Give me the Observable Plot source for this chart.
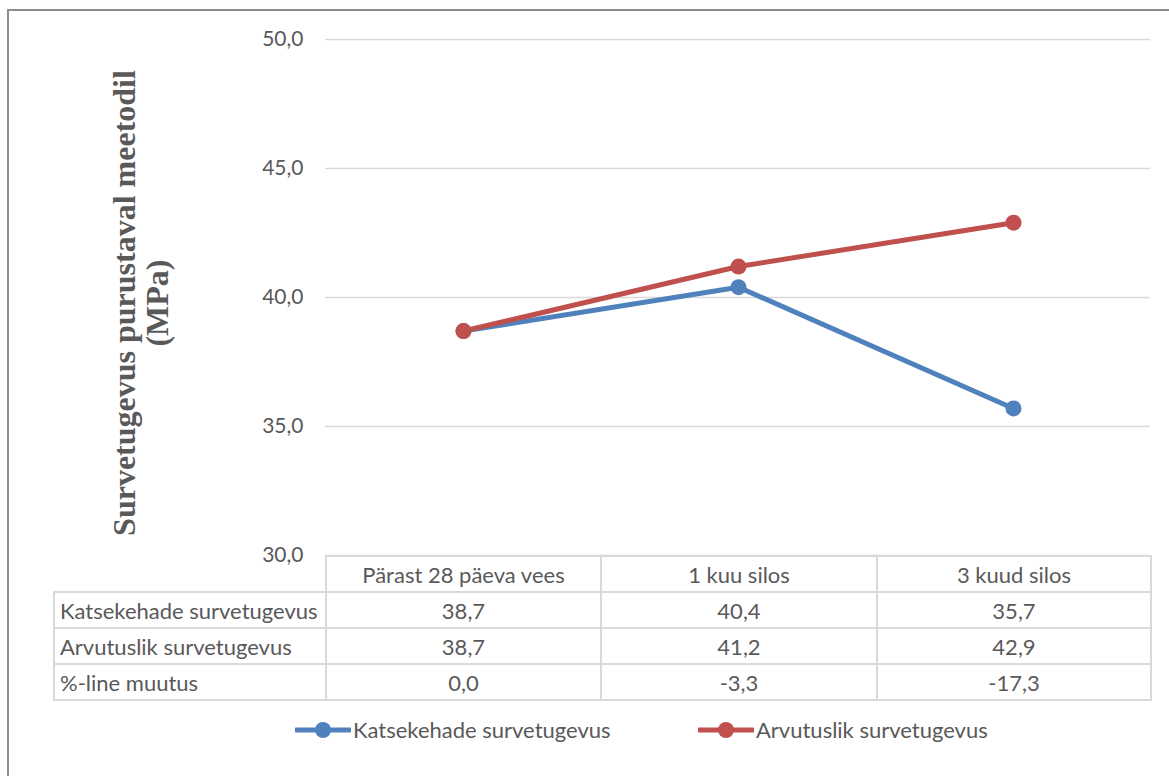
<!DOCTYPE html>
<html>
<head>
<meta charset="utf-8">
<script src="https://cdn.jsdelivr.net/npm/d3@7"></script>
<script src="https://cdn.jsdelivr.net/npm/@observablehq/plot@0.6"></script>
<style>
  body { margin: 0; width: 1169px; height: 776px; overflow: hidden; background: #fff; position: relative;
         font-family: Lato, "Liberation Sans", sans-serif; color: #595959; }
  #frame { position: absolute; left: 7px; top: 9px; width: 1200px; height: 800px;
           border-left: 2px solid #8c8c8c; border-top: 2px solid #8c8c8c; }
  #chart { position: absolute; left: 0; top: 0; }
  #ytitle { position: absolute; left: -109px; top: 270px; width: 500px; height: 66px;
            transform: rotate(-90deg); transform-origin: 50% 50%;
            font-family: "Liberation Serif", "Times New Roman", serif; font-weight: bold;
            font-size: 32px; line-height: 33px; text-align: center; color: #595959; white-space: nowrap; }
  #datatable { position: absolute; left: 53px; top: 555px; border-collapse: collapse; table-layout: fixed;
               width: 1097px; font-size: 22px; color: #595959; }
  #datatable td { border: 2px solid #d9d9d9; height: 34px; padding: 0 5px; text-align: center;
                  white-space: nowrap; overflow: hidden; }
  #datatable td.lab { text-align: left; }
  #datatable td.corner { border-top: hidden; border-left: hidden; }
  .legend { position: absolute; top: 716px; display: flex; align-items: center; font-size: 22px; color: #595959; }
  .legend svg { display: block; margin-right: 2px; }
</style>
</head>
<body>
<div id="frame"></div>
<div id="chart"></div>
<div id="ytitle">Survetugevus purustaval meetodil<br>(MPa)</div>
<table id="datatable"></table>
<div id="legend"></div>
<script>
// Categories, series and tick values
const categories = ["Pärast 28 päeva vees", "1 kuu silos", "3 kuud silos"];
const seriesNames = ["Katsekehade survetugevus", "Arvutuslik survetugevus"];
const katsekehade = [38.7, 40.4, 35.7];
const arvutuslik = [38.7, 41.2, 42.9];
const muutusLabel = "%-line muutus";
const muutus = [0.0, -3.3, -17.3];
const yTicks = [30, 35, 40, 45, 50];
const colors = ["#4f81bd", "#c0504d"];

// Decimal comma, one decimal place
const fmt = d => d.toFixed(1).replace(".", ",");

const seriesValues = [katsekehade, arvutuslik];
const rows = seriesNames.flatMap((s, k) =>
  categories.map((c, i) => ({series: s, cat: c, value: seriesValues[k][i]})));

const chart = Plot.plot({
  width: 1169,
  height: 560,
  marginLeft: 325,
  marginRight: 19,
  marginTop: 39,
  marginBottom: 5,
  style: {fontFamily: "Lato, sans-serif", fontSize: "21px", color: "#595959", background: "transparent", overflow: "visible"},
  x: {type: "point", domain: categories, padding: 0.5, axis: null},
  y: {domain: [30, 50]},
  color: {domain: seriesNames, range: colors},
  marks: [
    Plot.gridY({ticks: yTicks, stroke: "#d9d9d9", strokeOpacity: 1, strokeWidth: 1.5}),
    Plot.axisY({ticks: yTicks, tickSize: 0, tickPadding: 22, tickFormat: fmt, label: null, fontSize: 21}),
    Plot.line(rows, {x: "cat", y: "value", z: "series", stroke: "series", strokeWidth: 5, strokeLinejoin: "round"}),
    Plot.dot(rows, {x: "cat", y: "value", fill: "series", r: 8, stroke: null})
  ]
});
document.getElementById("chart").appendChild(chart);

// Data table under the plot
const table = document.getElementById("datatable");
const colgroup = document.createElement("colgroup");
[272, 275, 276, 274].forEach(w => {
  const col = document.createElement("col");
  col.style.width = w + "px";
  colgroup.appendChild(col);
});
table.appendChild(colgroup);
const addRow = (label, cells, isHeader) => {
  const tr = document.createElement("tr");
  const first = document.createElement("td");
  first.className = isHeader ? "corner" : "lab";
  first.textContent = label;
  tr.appendChild(first);
  cells.forEach(v => {
    const td = document.createElement("td");
    td.textContent = v;
    tr.appendChild(td);
  });
  table.appendChild(tr);
};
addRow("", categories, true);
addRow(seriesNames[0], katsekehade.map(fmt));
addRow(seriesNames[1], arvutuslik.map(fmt));
addRow(muutusLabel, muutus.map(fmt));

// Legend
const legend = document.getElementById("legend");
const legendLeft = [295, 698];
seriesNames.forEach((name, k) => {
  const item = document.createElement("div");
  item.className = "legend";
  item.style.left = legendLeft[k] + "px";
  item.innerHTML = `<svg width="56" height="26"><line x1="1" x2="55" y1="13" y2="13" stroke="${colors[k]}" stroke-width="5" stroke-linecap="round"/><circle cx="28" cy="13" r="8" fill="${colors[k]}"/></svg><span>${name}</span>`;
  legend.appendChild(item);
});
</script>
</body>
</html>
